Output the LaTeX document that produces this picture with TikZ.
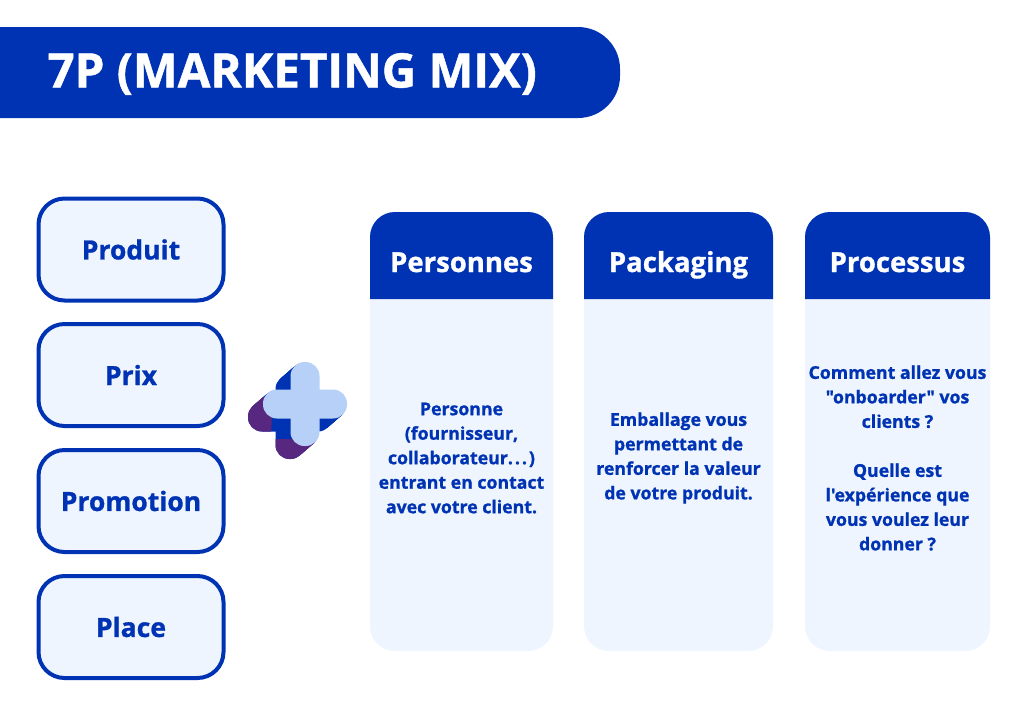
\documentclass[tikz,border=0pt]{standalone}
\usepackage{fontspec}
\setmainfont{Open Sans}[Ligatures=TeXOff, BoldFeatures={FakeBold=1}]
\definecolor{mblue}{RGB}{0,51,180}
\definecolor{mlight}{RGB}{238,245,254}
\definecolor{mpale}{RGB}{182,208,248}
\definecolor{mpurple}{RGB}{88,40,128}
\tikzset{
  leftbox/.style={draw=mblue, line width=4pt, fill=mlight, rounded corners=26pt,
    minimum width=185pt, minimum height=102pt, text=mblue,
    font=\bfseries\fontsize{26.5}{30}\selectfont},
  headtext/.style={text=white, anchor=base, font=\bfseries\fontsize{27.5}{30}\selectfont},
  bodytext/.style={text=mblue, align=center, font=\bfseries\fontsize{17.7}{24.5}\selectfont},
}
\newcommand\mycross[2]{%
  \fill[#2, rounded corners=14pt] ($(#1)+(-42,-14.5)$) rectangle ($(#1)+(42,14.5)$);
  \fill[#2, rounded corners=14pt] ($(#1)+(-14.5,-42)$) rectangle ($(#1)+(14.5,42)$);
}
\newcommand\mydots{.\kern2pt.\kern2pt.\kern2pt}
\usetikzlibrary{calc}
\begin{document}
\begin{tikzpicture}[x=1pt,y=-1pt]
\useasboundingbox (0,0) rectangle (1024,724);
\fill[white] (0,0) rectangle (1024,724);
% title bar
\begin{scope}
\clip (0,0) rectangle (1024,724);
\fill[mblue, rounded corners=42pt] (-60,27) rectangle (620,118);
\end{scope}
\node[anchor=west, text=white, font=\bfseries\fontsize{47.5}{50}\selectfont] (title) at (44,74) {7P (MARKETING MIX)};
% left boxes
\node[leftbox] (produit) at (131,249.5) {Produit};
\node[leftbox] (prix) at (131,375) {Prix};
\node[leftbox] (promotion) at (131,501) {Promotion};
\node[leftbox] (place) at (131,627) {Place};
% plus sign
\coordinate (pc) at (305,404);
\foreach \t in {15,14,...,1}{ \mycross{$(pc)+(-\t,\t*13/15)$}{mblue} }
\begin{scope}
\clip (240,397) rectangle (271,470) (240,439) rectangle (322,470);
\foreach \t in {15,14,...,1}{ \mycross{$(pc)+(-\t,\t*13/15)$}{mpurple} }
\end{scope}
\mycross{pc}{mpale}
% cards
\foreach \xa/\xb/\nm in {370/553/pers, 584/773/pack, 805/990/proc}{
  \fill[mlight, rounded corners=25pt] (\xa,212) rectangle (\xb,651);
  \fill[mblue] (\xa,299) [rounded corners=25pt] -- (\xa,212) -- (\xb,212) [sharp corners] -- (\xb,299) -- cycle;
  \coordinate (\nm H) at ({(\xa+\xb)/2},272);
  \coordinate (\nm B) at ({(\xa+\xb)/2},458);
}
\node[headtext] (persHead) at (persH) {Personnes};
\node[headtext] (packHead) at (packH) {Packaging};
\node[headtext] (procHead) at (procH) {Processus};
\node[bodytext] (persBody) at (persB) {Personne\\(fournisseur,\\collaborateur\mydots)\\entrant en contact\\avec votre client.};
\node[bodytext] (packBody) at (packB) {Emballage vous\\permettant de\\renforcer la valeur\\de votre produit.};
\node[bodytext] (procBody) at (procB) {Comment allez vous\\"onboarder" vos\\clients ?\\[24.5pt]Quelle est\\l'expérience que\\vous voulez leur\\donner ?};
\end{tikzpicture}
\end{document}
